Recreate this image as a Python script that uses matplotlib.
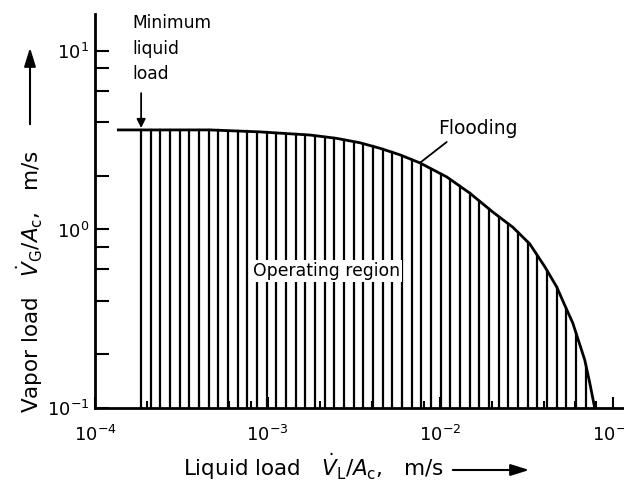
import numpy as np
import matplotlib
matplotlib.use("Agg")
import matplotlib.pyplot as plt
from matplotlib.patches import FancyArrowPatch
from matplotlib.ticker import LogLocator, NullFormatter

# Flooding limit: liquid load (m/s) vs. vapor load (m/s)
flood_liquid = [1.34e-4, 4.63e-4, 9.0e-4, 1.76e-3, 2.5e-3, 3.42e-3, 4.47e-3, 5.83e-3,
                7.62e-3, 1.09e-2, 1.48e-2, 2.02e-2, 2.63e-2, 3.30e-2, 4.04e-2,
                4.73e-2, 5.26e-2, 5.86e-2, 6.87e-2, 7.35e-2, 7.85e-2]
flood_vapor = [3.61, 3.61, 3.52, 3.38, 3.24, 3.06, 2.85, 2.62,
               2.36, 1.97, 1.60, 1.25, 1.03, 0.83, 0.617,
               0.476, 0.377, 0.299, 0.186, 0.138, 0.10]
min_liquid_load = 1.85e-4

x_ticks = [1e-4, 1e-3, 1e-2, 1e-1]
x_ticklabels = [r"$10^{-4}$", r"$10^{-3}$", r"$10^{-2}$", r"$10^{-1}$"]
y_ticks = [1e-1, 1e0, 1e1]
y_ticklabels = [r"$10^{-1}$", r"$10^{0}$", r"$10^{1}$"]

W, H = 624, 484
plt.rcParams["mathtext.fontset"] = "dejavusans"
fig = plt.figure(figsize=(W / 100, H / 100), dpi=100)


def fx(px):
    return px / W


def fy(py):
    return 1 - py / H


ax_l, ax_r, ax_t, ax_b = 95, 624, 14, 408
ax = fig.add_axes([fx(ax_l), fy(ax_b), (ax_r - ax_l) / W, (ax_b - ax_t) / H])
ax.set_xscale("log")
ax.set_yscale("log")
ax.set_xlim(1e-4, 0.116)
ax.set_ylim(0.1, 16.1)

for s in ("top", "right"):
    ax.spines[s].set_visible(False)
for s in ("left", "bottom"):
    ax.spines[s].set_linewidth(2)

ax.set_xticks(x_ticks)
ax.set_xticklabels(x_ticklabels, fontsize=13)
ax.set_yticks(y_ticks)
ax.set_yticklabels(y_ticklabels, fontsize=13)
ax.xaxis.set_minor_locator(LogLocator(base=10, subs=(2, 4, 6, 8)))
ax.yaxis.set_minor_locator(LogLocator(base=10, subs=(2, 4, 6, 8)))
ax.xaxis.set_minor_formatter(NullFormatter())
ax.yaxis.set_minor_formatter(NullFormatter())
ax.tick_params(axis="y", which="both", direction="in", length=10, width=1.5, pad=4)
ax.tick_params(axis="x", which="major", direction="in", length=8, width=1.5, pad=12)
ax.tick_params(axis="x", which="minor", direction="in", length=5, width=1.5)

# Flooding curve
lx = np.log10(flood_liquid)
ly = np.log10(flood_vapor)
ax.plot(flood_liquid, flood_vapor, color="black", lw=2, solid_joinstyle="round",
        solid_capstyle="butt", clip_on=False, zorder=3)

# Vertical hatching of the operating region
step = 0.056
hatch_lx = np.arange(np.log10(min_liquid_load), lx[-1], step)
for hx in hatch_lx:
    top = 10 ** np.interp(hx, lx, ly)
    ax.plot([10 ** hx, 10 ** hx], [0.1, top], color="black", lw=1.6, zorder=2)

ax.text(2.2e-3, 0.586, "Operating region", fontsize=12.4, ha="center", va="center",
        zorder=4, bbox=dict(facecolor="white", edgecolor="none", pad=1.5))

# Minimum liquid load annotation
fig.text(fx(132), fy(14), "Minimum\nliquid\nload", fontsize=12.3, ha="left", va="top",
         linespacing=1.55)
ax.annotate("", xy=(min_liquid_load, 3.70), xytext=(min_liquid_load, 5.8),
            arrowprops=dict(arrowstyle="-|>", color="black", lw=1.3,
                            mutation_scale=13, shrinkA=0, shrinkB=0))

# Flooding annotation
ax.text(9.68e-3, 3.70, "Flooding", fontsize=13.5, ha="left", va="center")
ax.annotate("", xy=(7.62e-3, 2.36), xytext=(1.09e-2, 3.09),
            arrowprops=dict(arrowstyle="-", color="black", lw=1.3,
                            shrinkA=0, shrinkB=0))

# Axis titles with direction arrows
fig.text(fx(183), fy(467), r"Liquid load   $\dot{V}_\mathrm{L}/A_\mathrm{c}$,   m/s",
         fontsize=15.5, ha="left", va="center")
fig.add_artist(FancyArrowPatch(
    (fx(450), fy(470)), (fx(532), fy(470)), transform=fig.transFigure,
    arrowstyle="-|>,head_length=0.8,head_width=0.25", mutation_scale=14,
    color="black", lw=1.5))

fig.text(fx(30), fy(413), r"Vapor load   $\dot{V}_\mathrm{G}/A_\mathrm{c}$,   m/s",
         fontsize=15.5, ha="center", va="bottom", rotation=90)
fig.add_artist(FancyArrowPatch(
    (fx(30), fy(127)), (fx(30), fy(45)), transform=fig.transFigure,
    arrowstyle="-|>,head_length=0.8,head_width=0.25", mutation_scale=14,
    color="black", lw=1.5))

fig.savefig("out.png", dpi=100, facecolor="white")
